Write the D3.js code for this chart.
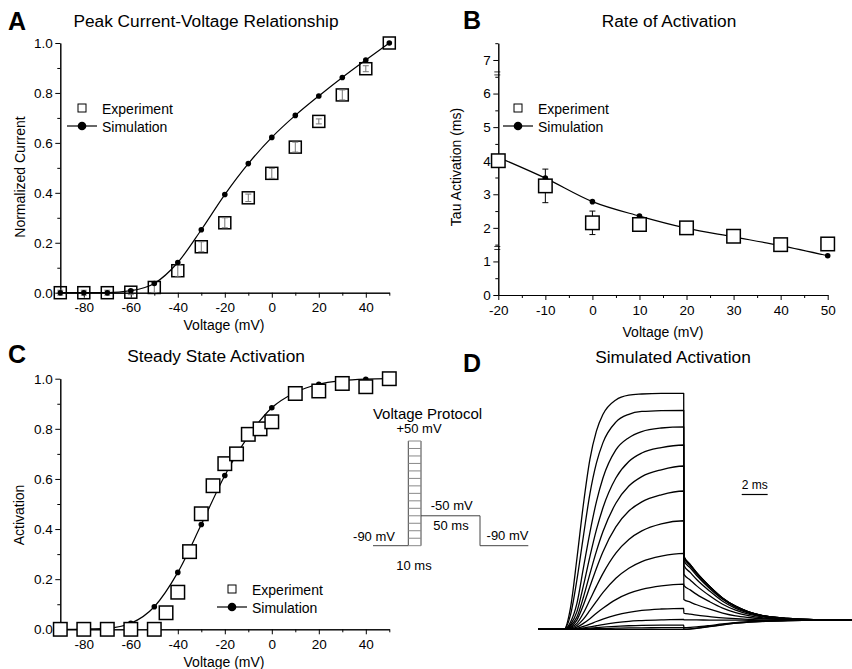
<!DOCTYPE html>
<html>
<head>
<meta charset="utf-8">
<script src="https://cdn.jsdelivr.net/npm/d3@7"></script>
<style>
body { margin: 0; background: #fff; }
svg { font-family: "Liberation Sans", Arial, Helvetica, sans-serif; }
</style>
</head>
<body>
<svg id="fig" width="852" height="669"></svg>
<script>
// ---- panel A : peak current-voltage ----
const ivVoltage = [-90, -80, -70, -60, -50, -40, -30, -20, -10, 0, 10, 20, 30, 40, 50];
const ivSim = [0, 0, 0, 0.008, 0.037, 0.121, 0.252, 0.393, 0.517, 0.622, 0.71, 0.788, 0.862, 0.932, 1.0];
const ivExp = [0, 0, 0, 0.002, 0.021, 0.088, 0.184, 0.28, 0.38, 0.478, 0.583, 0.686, 0.792, 0.897, 1.0];
const ivErr = [0.01, 0.01, 0.01, 0.01, 0.02, 0.025, 0.02, 0.02, 0.015, 0.02, 0.02, 0.01, 0.02, 0.012, 0];

// ---- panel B : tau activation ----
const tauVoltage = [-20, -10, 0, 10, 20, 30, 40, 50];
const tauSim = [4.1, 3.48, 2.78, 2.35, 1.99, 1.73, 1.47, 1.17];
const tauExp = [4.0, 3.25, 2.15, 2.1, 2.0, 1.75, 1.5, 1.52];
const tauErr = [0.15, 0.5, 0.35, 0.08, 0.06, 0.06, 0.06, 0.08];

// ---- panel C : steady state activation ----
const ssSimVoltage = [-90, -80, -70, -60, -50, -40, -30, -20, -10, 0, 10, 20, 30, 40, 50];
const ssSim = [0, 0.001, 0.004, 0.024, 0.09, 0.227, 0.418, 0.614, 0.77, 0.884, 0.945, 0.978, 0.992, 0.998, 1.0];
const ssExpVoltage = [-90, -80, -70, -60, -50, -45, -40, -35, -30, -25, -20, -15, -10, -5, 0, 10, 20, 30, 40, 50];
const ssExp = [0, 0, 0, 0, 0, 0.066, 0.148, 0.31, 0.461, 0.573, 0.661, 0.70, 0.778, 0.80, 0.828, 0.941, 0.951, 0.981, 0.968, 1.0];

// voltage protocol levels (mV)
const protocolSteps = [-90, -80, -70, -60, -50, -40, -30, -20, -10, 0, 10, 20, 30, 40, 50];

// ---- panel D : simulated traces (normalized), time in ms ----
const traceTimes = [-2, 0, 0.5, 1, 1.5, 2, 2.5, 3, 4, 5, 6, 7.5, 9.23];
const tailTimes = [9.24, 9.73, 10.23, 11.23, 12.23, 13.23, 14.23, 15.23, 17.23, 19.23, 22.2];
const traceRise = [
  [0, 0, 0.09, 0.30, 0.53, 0.72, 0.84, 0.91, 0.972, 0.992, 0.997, 1.0, 1.0],
  [0, 0, 0.06, 0.21, 0.395, 0.574, 0.704, 0.79, 0.878, 0.911, 0.923, 0.927, 0.928],
  [0, 0, 0.03, 0.11, 0.26, 0.41, 0.54, 0.64, 0.76, 0.812, 0.838, 0.853, 0.858],
  [0, 0, 0.02, 0.075, 0.185, 0.308, 0.421, 0.514, 0.641, 0.711, 0.747, 0.77, 0.781],
  [0, 0, 0.015, 0.052, 0.136, 0.235, 0.33, 0.413, 0.534, 0.607, 0.647, 0.676, 0.692],
  [0, 0, 0.01, 0.039, 0.103, 0.181, 0.258, 0.328, 0.434, 0.501, 0.54, 0.57, 0.586],
  [0, 0, 0.008, 0.025, 0.069, 0.125, 0.182, 0.236, 0.323, 0.381, 0.417, 0.447, 0.46],
  [0, 0, 0.005, 0.016, 0.043, 0.08, 0.118, 0.155, 0.216, 0.259, 0.287, 0.31, 0.322],
  [0, 0, 0.003, 0.009, 0.025, 0.045, 0.068, 0.089, 0.126, 0.152, 0.169, 0.184, 0.191],
  [0, 0, 0.001, 0.004, 0.012, 0.022, 0.033, 0.043, 0.06, 0.072, 0.08, 0.086, 0.089],
  [0, 0, 0, 0.002, 0.006, 0.01, 0.015, 0.02, 0.028, 0.034, 0.037, 0.04, 0.042],
  [0, 0, 0, 0.001, 0.003, 0.005, 0.007, 0.009, 0.012, 0.015, 0.017, 0.018, 0.018],
  [0, 0, 0, 0, 0.001, 0.002, 0.003, 0.003, 0.005, 0.006, 0.006, 0.007, 0.007],
  [0, 0, 0, 0, 0, 0, 0, 0, 0, 0, 0, 0, 0]
];
const traceTail = [
  [0.31, 0.275, 0.240, 0.182, 0.133, 0.098, 0.074, 0.059, 0.046, 0.041, 0.039],
  [0.309, 0.274, 0.240, 0.182, 0.132, 0.098, 0.074, 0.059, 0.046, 0.041, 0.039],
  [0.307, 0.273, 0.238, 0.181, 0.132, 0.097, 0.074, 0.059, 0.046, 0.041, 0.039],
  [0.303, 0.269, 0.235, 0.179, 0.130, 0.096, 0.073, 0.058, 0.046, 0.041, 0.039],
  [0.293, 0.260, 0.228, 0.173, 0.127, 0.094, 0.072, 0.058, 0.045, 0.041, 0.039],
  [0.271, 0.241, 0.211, 0.162, 0.119, 0.089, 0.069, 0.056, 0.045, 0.041, 0.039],
  [0.234, 0.209, 0.184, 0.142, 0.106, 0.081, 0.064, 0.053, 0.044, 0.040, 0.039],
  [0.186, 0.167, 0.148, 0.117, 0.090, 0.071, 0.058, 0.049, 0.042, 0.040, 0.039],
  [0.126, 0.115, 0.104, 0.085, 0.069, 0.057, 0.050, 0.045, 0.041, 0.039, 0.038],
  [0.068, 0.064, 0.060, 0.054, 0.048, 0.045, 0.042, 0.040, 0.039, 0.038, 0.038],
  [0.040, 0.040, 0.040, 0.039, 0.039, 0.039, 0.038, 0.038, 0.038, 0.038, 0.038],
  [0.007, 0.008, 0.010, 0.016, 0.023, 0.028, 0.032, 0.034, 0.037, 0.038, 0.038],
  [0.001, 0.002, 0.005, 0.012, 0.020, 0.026, 0.031, 0.034, 0.037, 0.038, 0.038],
  [0, 0.001, 0.004, 0.011, 0.019, 0.026, 0.030, 0.033, 0.037, 0.038, 0.038]
];

const svg = d3.select("#fig");
const FONT = '"Liberation Sans", Arial, Helvetica, sans-serif';

function styleAxis(sel, size) {
  sel.attr("font-family", FONT).attr("font-size", size);
  sel.selectAll("text").attr("fill", "#000");
  sel.selectAll("line, path").attr("stroke", "#000").attr("stroke-width", 1);
}

// builds axes for a scatter panel and returns the scales
function panel(cfg) {
  const g = svg.append("g");
  const x = d3.scaleLinear().domain(cfg.xDomain).range(cfg.xRange);
  const y = d3.scaleLinear().domain(cfg.yDomain).range(cfg.yRange);
  const y0 = cfg.yRange[0], x0 = cfg.xRange[0];

  g.append("g").attr("transform", `translate(0,${y0})`)
    .call(d3.axisBottom(x).tickValues(cfg.xMinor).tickSize(3).tickSizeOuter(0).tickFormat(""))
    .call(styleAxis, 13.5);
  g.append("g").attr("transform", `translate(0,${y0})`)
    .call(d3.axisBottom(x).tickValues(cfg.xMajor).tickSize(5).tickSizeOuter(0).tickPadding(5).tickFormat(d => String(d)))
    .call(styleAxis, 13.5);
  g.append("g").attr("transform", `translate(${x0},0)`)
    .call(d3.axisLeft(y).tickValues(cfg.yMinor).tickSize(3).tickSizeOuter(0).tickFormat(""))
    .call(styleAxis, 13.5);
  g.append("g").attr("transform", `translate(${x0},0)`)
    .call(d3.axisLeft(y).tickValues(cfg.yMajor).tickSize(5).tickSizeOuter(0).tickPadding(2.5).tickFormat(cfg.yFormat))
    .call(styleAxis, 13.5);

  return { g, x, y };
}

function simLine(p, xs, ys) {
  const line = d3.line().x((d, i) => p.x(xs[i])).y(d => p.y(d)).curve(d3.curveMonotoneX);
  p.g.append("path").datum(ys).attr("d", line)
    .attr("fill", "none").attr("stroke", "#000").attr("stroke-width", 1.2);
  p.g.selectAll(null).data(ys).enter().append("circle")
    .attr("cx", (d, i) => p.x(xs[i])).attr("cy", d => p.y(d)).attr("r", 2.8).attr("fill", "#000");
}

function expSquares(p, xs, ys, size, fill) {
  p.g.selectAll(null).data(ys).enter().append("rect")
    .attr("x", (d, i) => p.x(xs[i]) - size / 2).attr("y", d => p.y(d) - size / 2)
    .attr("width", size).attr("height", size)
    .attr("fill", fill).attr("stroke", "#000").attr("stroke-width", 1.5);
}

function errBars(p, xs, ys, errs, color) {
  const gg = p.g.append("g").attr("stroke", color).attr("stroke-width", 1);
  ys.forEach((v, i) => {
    if (!errs[i]) return;
    const cx = p.x(xs[i]), top = p.y(v + errs[i]), bot = p.y(v - errs[i]);
    gg.append("line").attr("x1", cx).attr("x2", cx).attr("y1", top).attr("y2", bot);
    gg.append("line").attr("x1", cx - 3).attr("x2", cx + 3).attr("y1", top).attr("y2", top);
    gg.append("line").attr("x1", cx - 3).attr("x2", cx + 3).attr("y1", bot).attr("y2", bot);
  });
}

function legend(x, y) {
  const g = svg.append("g").attr("font-family", FONT).attr("font-size", 14);
  g.append("rect").attr("x", x - 4).attr("y", y - 4).attr("width", 8).attr("height", 8)
    .attr("fill", "#fff").attr("stroke", "#000").attr("stroke-width", 1);
  g.append("text").attr("x", x + 20).attr("y", y + 5.5).text("Experiment");
  g.append("line").attr("x1", x - 15).attr("x2", x + 15).attr("y1", y + 18).attr("y2", y + 18)
    .attr("stroke", "#000").attr("stroke-width", 1.2);
  g.append("circle").attr("cx", x).attr("cy", y + 18).attr("r", 4.3).attr("fill", "#000");
  g.append("text").attr("x", x + 20).attr("y", y + 23.5).text("Simulation");
}

function text(x, y, str, opts = {}) {
  const t = svg.append("text").attr("x", x).attr("y", y).text(str)
    .attr("font-family", FONT).attr("font-size", opts.size || 14)
    .attr("text-anchor", opts.anchor || "middle");
  if (opts.bold) t.attr("font-weight", "bold");
  if (opts.rotate) t.attr("transform", `rotate(-90,${x},${y})`);
  return t;
}

// ---------- Panel A ----------
const pA = panel({
  xDomain: [-90, 50], xRange: [60.3, 389.3],
  yDomain: [0, 1], yRange: [292.7, 43],
  xMajor: [-80, -60, -40, -20, 0, 20, 40], xMinor: [-90, -70, -50, -30, -10, 10, 30, 50],
  yMajor: [0, 0.2, 0.4, 0.6, 0.8, 1.0], yMinor: [0.1, 0.3, 0.5, 0.7, 0.9],
  yFormat: d3.format(".1f")
});
expSquares(pA, ivVoltage, ivExp, 12, "none");
errBars(pA, ivVoltage, ivExp, ivErr, "#777");
simLine(pA, ivVoltage, ivSim);
legend(82, 108);
text(8, 30, "A", { size: 25, bold: true, anchor: "start" });
text(206, 27, "Peak Current-Voltage Relationship", { size: 17.3 });
text(25, 177, "Normalized Current", { rotate: true });
text(224, 330, "Voltage (mV)");

// ---------- Panel B ----------
const pB = panel({
  xDomain: [-20, 50], xRange: [498.3, 827.7],
  yDomain: [0, 7.5], yRange: [295, 43.2],
  xMajor: [-20, -10, 0, 10, 20, 30, 40, 50], xMinor: [-15, -5, 5, 15, 25, 35, 45],
  yMajor: [0, 1, 2, 3, 4, 5, 6, 7], yMinor: [0.5, 1.5, 2.5, 3.5, 4.5, 5.5, 6.5, 7.5],
  yFormat: d3.format("d")
});
// axis break marks
[6.6, 1.4].forEach(v => {
  [-1.5, 1.5].forEach(o => {
    pB.g.append("line").attr("x1", pB.x(-20) - 4).attr("x2", pB.x(-20) + 2)
      .attr("y1", pB.y(v) + o).attr("y2", pB.y(v) + o).attr("stroke", "#000").attr("stroke-width", 0.8);
  });
});
errBars(pB, tauVoltage, tauExp, tauErr, "#000");
simLine(pB, tauVoltage, tauSim);
expSquares(pB, tauVoltage, tauExp, 13.5, "#fff");
legend(518, 108);
text(463, 29, "B", { size: 25, bold: true, anchor: "start" });
text(669, 27, "Rate of Activation", { size: 17.3 });
text(461, 167, "Tau Activation (ms)", { rotate: true });
text(663, 337, "Voltage (mV)");

// ---------- Panel C ----------
const pC = panel({
  xDomain: [-90, 50], xRange: [60.3, 389.3],
  yDomain: [0, 1], yRange: [629.3, 378.7],
  xMajor: [-80, -60, -40, -20, 0, 20, 40], xMinor: [-90, -70, -50, -30, -10, 10, 30, 50],
  yMajor: [0, 0.2, 0.4, 0.6, 0.8, 1.0], yMinor: [0.1, 0.3, 0.5, 0.7, 0.9],
  yFormat: d3.format(".1f")
});
simLine(pC, ssSimVoltage, ssSim);
expSquares(pC, ssExpVoltage, ssExp, 13.5, "#fff");
legend(232, 589);
text(8, 363, "C", { size: 25, bold: true, anchor: "start" });
text(216, 362, "Steady State Activation", { size: 17.3 });
text(24, 515, "Activation", { rotate: true });
text(224, 667, "Voltage (mV)");

// voltage protocol inset
const vp = d3.scaleLinear().domain([-90, 50]).range([545.7, 441]);
const ins = svg.append("g").attr("stroke", "#444").attr("stroke-width", 1).attr("fill", "none");
ins.append("line").attr("x1", 373).attr("x2", 408.3).attr("y1", vp(-90)).attr("y2", vp(-90));
ins.append("line").attr("x1", 408.3).attr("x2", 408.3).attr("y1", vp(-90)).attr("y2", vp(50));
ins.append("line").attr("x1", 421).attr("x2", 421).attr("y1", vp(-90)).attr("y2", vp(50));
ins.selectAll(null).data(protocolSteps).enter().append("line")
  .attr("x1", 408.3).attr("x2", 421).attr("y1", d => vp(d)).attr("y2", d => vp(d))
  .attr("stroke", "#888");
ins.append("path").attr("d", `M421,${vp(-50)}H480V${vp(-90)}H528.3`);
text(427.5, 418.5, "Voltage Protocol", { size: 15 });
text(419, 432.7, "+50 mV", { size: 13 });
text(374, 541, "-90 mV", { size: 13 });
text(451.7, 510, "-50 mV", { size: 13 });
text(451, 530, "50 ms", { size: 13 });
text(507.5, 540, "-90 mV", { size: 13 });
text(414, 570, "10 ms", { size: 13 });

// ---------- Panel D ----------
const xD = d3.scaleLinear().domain([-2, 22.2]).range([538, 852]);
const yD = d3.scaleLinear().domain([0, 1]).range([629.3, 393.3]);
const traceLine = d3.line().x(d => xD(d[0])).y(d => yD(d[1])).curve(d3.curveMonotoneX);
const gD = svg.append("g");
traceRise.forEach((rise, k) => {
  const pts = traceTimes.map((t, i) => [t, rise[i]])
    .concat(tailTimes.map((t, i) => [t, traceTail[k][i]]));
  gD.append("path").attr("d", traceLine(pts))
    .attr("fill", "none").attr("stroke", "#000").attr("stroke-width", 1.3)
    .attr("stroke-linejoin", "round");
});
gD.append("line").attr("x1", xD(13.7)).attr("x2", xD(15.7)).attr("y1", 494.5).attr("y2", 494.5)
  .attr("stroke", "#000").attr("stroke-width", 1.2);
text(xD(14.7), 488.5, "2 ms", { size: 12 });
text(463, 372, "D", { size: 25, bold: true, anchor: "start" });
text(673, 362.5, "Simulated Activation", { size: 17.3 });
</script>
</body>
</html>
